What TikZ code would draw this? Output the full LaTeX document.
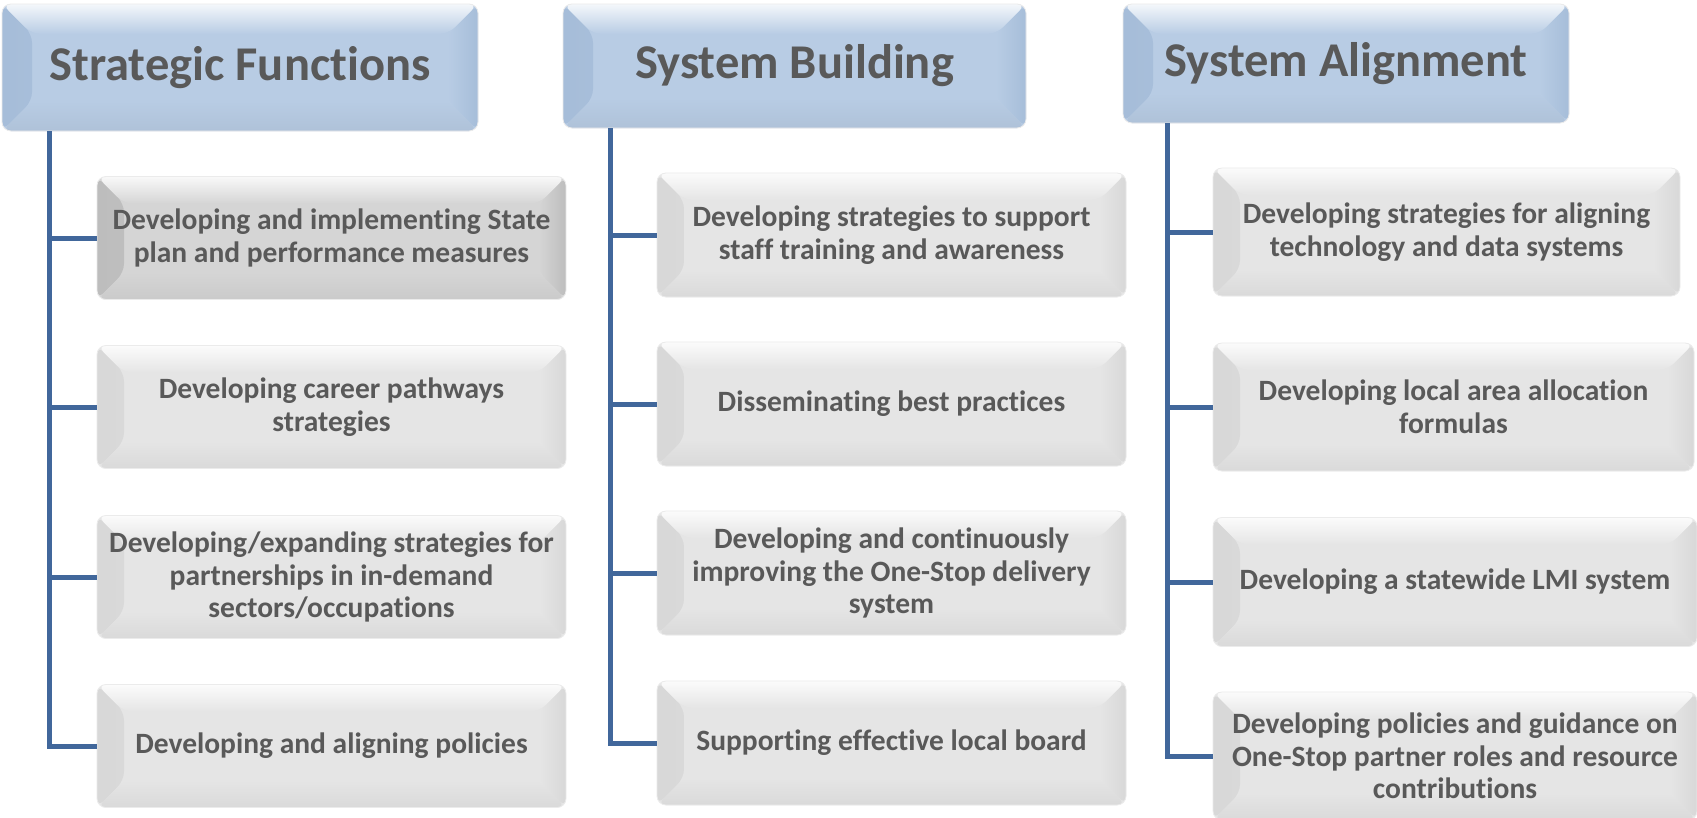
\documentclass[tikz,border=0pt]{standalone}
\usepackage{fontspec}
\setmainfont{Carlito}[Ligatures=NoCommon]
\usetikzlibrary{calc}
\definecolor{hdrbase}{HTML}{B8CCE4}
\definecolor{hdrside}{HTML}{A6BDD9}
\definecolor{chbase}{HTML}{E5E5E5}
\definecolor{chside}{HTML}{D8D8D8}
\definecolor{selbase}{HTML}{D5D5D5}
\definecolor{selside}{HTML}{BDBDBD}
\definecolor{txt}{HTML}{595959}
\definecolor{conncol}{HTML}{41679B}
\tikzset{
  bevelfill/.style n args={3}{%
    fill=#1,
    path picture={
      \shade[left color=#2, right color=#1]
        let \p1=(path picture bounding box.south west),
            \p2=(path picture bounding box.north east) in
        (\x1,\y2) -- ({\x1+#3},{\y2-#3}) -- ({\x1+#3},{\y1+#3}) -- (\x1,\y1) -- cycle;
      \shade[left color=#1, right color=#2]
        let \p1=(path picture bounding box.south west),
            \p2=(path picture bounding box.north east) in
        (\x2,\y2) -- ({\x2-#3},{\y2-#3}) -- ({\x2-#3},{\y1+#3}) -- (\x2,\y1) -- cycle;
      \shade[top color=white!85!#1, bottom color=#1]
        let \p1=(path picture bounding box.south west),
            \p2=(path picture bounding box.north east) in
        (\x1,\y2) -- (\x2,\y2) -- ({\x2-#3},{\y2-#3}) -- ({\x1+#3},{\y2-#3}) -- cycle;
      \shade[top color=#1, bottom color=#1!95!black]
        let \p1=(path picture bounding box.south west),
            \p2=(path picture bounding box.north east) in
        (\x1,\y1) -- (\x2,\y1) -- ({\x2-#3},{\y1+#3}) -- ({\x1+#3},{\y1+#3}) -- cycle;
    }
  },
  boxbase/.style={rectangle, rounded corners=9pt, inner sep=0pt, align=center,
    text=txt, font=\bfseries, draw=black!8, line width=0.8pt},
  hdr/.style={boxbase, bevelfill={hdrbase}{hdrside}{30pt},
    font=\fontsize{48.5}{54}\selectfont\bfseries},
  chbox/.style={boxbase, bevelfill={chbase}{chside}{27pt},
    font=\fontsize{29.5}{32.5}\selectfont\bfseries},
  selbox/.style={boxbase, bevelfill={selbase}{selside}{27pt},
    font=\fontsize{29.5}{32.5}\selectfont\bfseries},
  colA/.style={minimum width=469pt, minimum height=123pt},
  colB/.style={minimum width=469pt, minimum height=124pt},
  conn/.style={draw=conncol, line width=5pt}
}
\begin{document}
\begin{tikzpicture}[x=1pt, y=-1pt]
\useasboundingbox[fill=white] (0,0) rectangle (1697,817);

% headers
\node[hdr, minimum width=476pt, minimum height=127pt] (h1) at (240,67.5) {\raisebox{-2pt}{Strategic Functions}};
\node[hdr, minimum width=463pt, minimum height=124pt] (h2) at (794.5,66) {\raisebox{-2pt}{System Building}};
\node[hdr, minimum width=446pt, minimum height=119pt] (h3) at (1346,63.5) {\raisebox{-2pt}{System Alignment}};

% column 1
\node[selbox, colA] (a1) at (331.5,238) {Developing and implementing State\\plan and performance measures};
\node[chbox, colA] (a2) at (331.5,407) {Developing career pathways\\strategies};
\node[chbox, colA] (a3) at (331.5,577) {Developing/expanding strategies for\\partnerships in in-demand\\sectors/occupations};
\node[chbox, colA] (a4) at (331.5,746) {Developing and aligning policies};

% column 2
\node[chbox, colB] (b1) at (891.5,235) {Developing strategies to support\\staff training and awareness};
\node[chbox, colB] (b2) at (891.5,404) {Disseminating best practices};
\node[chbox, colB] (b3) at (891.5,573) {Developing and continuously\\improving the One-Stop delivery\\system};
\node[chbox, colB] (b4) at (891.5,743) {Supporting effective local board};

% column 3
\node[chbox, minimum width=467pt, minimum height=128pt] (c1) at (1446.5,232) {Developing strategies for aligning\\technology and data systems};
\node[chbox, minimum width=481pt, minimum height=128pt] (c2) at (1453.5,407) {Developing local area allocation\\formulas};
\node[chbox, minimum width=484pt, minimum height=129pt] (c3) at (1455,582) {Developing a statewide LMI system};
\node[chbox, minimum width=484pt, minimum height=128pt] (c4) at (1455,756) {Developing policies and guidance on\\One-Stop partner roles and resource\\contributions};

% connectors
\coordinate (v1) at ($(h1.south west)+(48,0)$);
\coordinate (v2) at ($(h2.south west)+(48,0)$);
\coordinate (v3) at ($(h3.south west)+(45,0)$);

\draw[conn] (v1) |- (a4.west);
\draw[conn] (v1 |- a1.west) -- (a1.west);
\draw[conn] (v1 |- a2.west) -- (a2.west);
\draw[conn] (v1 |- a3.west) -- (a3.west);

\draw[conn] (v2) |- (b4.west);
\draw[conn] (v2 |- b1.west) -- (b1.west);
\draw[conn] (v2 |- b2.west) -- (b2.west);
\draw[conn] (v2 |- b3.west) -- (b3.west);

\draw[conn] (v3) |- (c4.west);
\draw[conn] (v3 |- c1.west) -- (c1.west);
\draw[conn] (v3 |- c2.west) -- (c2.west);
\draw[conn] (v3 |- c3.west) -- (c3.west);
\end{tikzpicture}
\end{document}
